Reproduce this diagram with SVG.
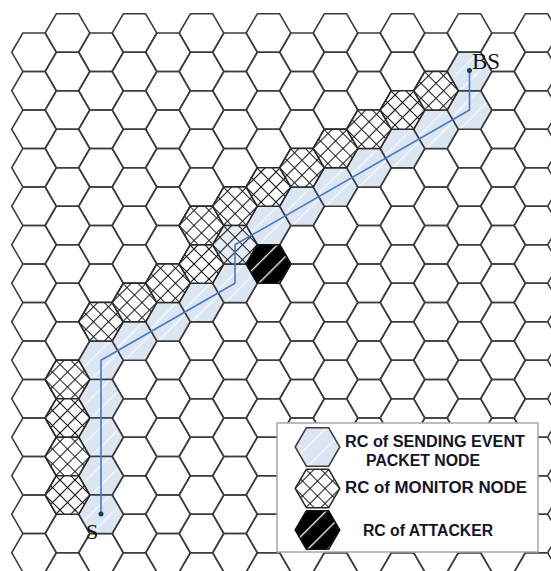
<svg xmlns="http://www.w3.org/2000/svg" width="551" height="571" viewBox="0 0 551 571">
<style>
.g{fill:none;stroke:#3c3c3c;stroke-width:1.5}
.snd{fill:url(#pBlue);stroke:#3c3c3c;stroke-width:1.5}
.mon{fill:url(#pX);stroke:#2a2a2a;stroke-width:1.5}
.monb{fill:url(#pXB);stroke:#2a2a2a;stroke-width:1.5}
.att{fill:url(#pAtt);stroke:#111;stroke-width:1.5}
.route{fill:none;stroke:#4a78c2;stroke-width:1.6}
.dot{fill:#1f3864}
.lbl{font-family:"Liberation Serif","Times New Roman",serif;fill:#111}
.leg{font-family:"Liberation Sans",Arial,sans-serif;font-weight:bold;font-size:16px;fill:#14142a}
</style>
<defs>
<path id="h" d="M-22.3 0L-11.15-19.25H11.15L22.3 0 11.15 19.25H-11.15Z"/>
<g id="colE">
<use href="#h" y="52.25"/><use href="#h" y="90.75"/><use href="#h" y="129.25"/><use href="#h" y="167.75"/><use href="#h" y="206.25"/><use href="#h" y="244.75"/><use href="#h" y="283.25"/><use href="#h" y="321.75"/><use href="#h" y="360.25"/><use href="#h" y="398.75"/><use href="#h" y="437.25"/><use href="#h" y="475.75"/><use href="#h" y="514.25"/><use href="#h" y="552.75"/>
</g>
<g id="colO">
<use href="#h" y="33"/><use href="#h" y="71.5"/><use href="#h" y="110"/><use href="#h" y="148.5"/><use href="#h" y="187"/><use href="#h" y="225.5"/><use href="#h" y="264"/><use href="#h" y="302.5"/><use href="#h" y="341"/><use href="#h" y="379.5"/><use href="#h" y="418"/><use href="#h" y="456.5"/><use href="#h" y="495"/><use href="#h" y="533.5"/><use href="#h" y="572"/>
</g>
<pattern id="pBlue" patternUnits="userSpaceOnUse" width="14" height="14" patternTransform="rotate(45)">
<rect width="14" height="14" fill="#dce6f2"/><rect x="6" width="1.4" height="14" fill="#f4f8fc"/>
</pattern>
<pattern id="pX" patternUnits="userSpaceOnUse" width="10.6" height="10.6" patternTransform="rotate(45)">
<rect width="10.6" height="10.6" fill="#fff"/><path d="M0 5.3H10.6M5.3 0V10.6" stroke="#1a1a1a" stroke-width="1.1"/>
</pattern>
<pattern id="pXB" patternUnits="userSpaceOnUse" width="10.6" height="10.6" patternTransform="rotate(45)">
<rect width="10.6" height="10.6" fill="#e6edf6"/><path d="M0 5.3H10.6M5.3 0V10.6" stroke="#1a1a1a" stroke-width="1.1"/>
</pattern>
<pattern id="pAtt" patternUnits="userSpaceOnUse" width="14" height="14" patternTransform="rotate(45)">
<rect width="14" height="14" fill="#000"/><rect x="6" width="1.4" height="14" fill="#e8e8e8"/>
</pattern>
</defs>

<g id="grid" class="g">
<use href="#colE" x="34"/><use href="#colO" x="67.5"/>
<use href="#colE" x="101"/><use href="#colO" x="134.5"/>
<use href="#colE" x="168"/><use href="#colO" x="201.5"/>
<use href="#colE" x="235"/><use href="#colO" x="268.5"/>
<use href="#colE" x="302"/><use href="#colO" x="335.5"/>
<use href="#colE" x="369"/><use href="#colO" x="402.5"/>
<use href="#colE" x="436"/><use href="#colO" x="469.5"/>
<use href="#colE" x="503"/><use href="#colO" x="536.5"/>
</g>

<g id="sending-cells">
<use class="snd" href="#h" x="101" y="360.25"/>
<use class="snd" href="#h" x="101" y="398.75"/>
<use class="snd" href="#h" x="101" y="437.25"/>
<use class="snd" href="#h" x="101" y="475.75"/>
<use class="snd" href="#h" x="101" y="514.25"/>
<use class="snd" href="#h" x="134.5" y="341"/>
<use class="snd" href="#h" x="168" y="321.75"/>
<use class="snd" href="#h" x="201.5" y="302.5"/>
<use class="snd" href="#h" x="235" y="283.25"/>
<use class="snd" href="#h" x="268.5" y="225.5"/>
<use class="snd" href="#h" x="302" y="206.25"/>
<use class="snd" href="#h" x="335.5" y="187"/>
<use class="snd" href="#h" x="369" y="167.75"/>
<use class="snd" href="#h" x="402.5" y="148.5"/>
<use class="snd" href="#h" x="436" y="129.25"/>
<use class="snd" href="#h" x="469.5" y="110"/>
<use class="snd" href="#h" x="469.5" y="71.5"/>
</g>

<g id="monitor-cells">
<use class="mon" href="#h" x="67.5" y="379.5"/>
<use class="mon" href="#h" x="67.5" y="418"/>
<use class="mon" href="#h" x="67.5" y="456.5"/>
<use class="mon" href="#h" x="67.5" y="495"/>
<use class="mon" href="#h" x="101" y="321.75"/>
<use class="mon" href="#h" x="134.5" y="302.5"/>
<use class="mon" href="#h" x="168" y="283.25"/>
<use class="mon" href="#h" x="201.5" y="264"/>
<use class="mon" href="#h" x="201.5" y="225.5"/>
<use class="mon" href="#h" x="235" y="206.25"/>
<use class="monb" href="#h" x="235" y="244.75"/>
<use class="mon" href="#h" x="268.5" y="187"/>
<use class="mon" href="#h" x="302" y="167.75"/>
<use class="mon" href="#h" x="335.5" y="148.5"/>
<use class="mon" href="#h" x="369" y="129.25"/>
<use class="mon" href="#h" x="402.5" y="110"/>
<use class="mon" href="#h" x="436" y="90.75"/>
</g>

<g id="attacker">
<use class="att" href="#h" x="268.5" y="264"/>
</g>

<g id="connectors">
<polyline class="route" points="101,514.25 101,360.25 235,283.25 235,244.75 469.5,110 469.5,71.5"/>
</g>

<g id="S">
<circle class="dot" cx="101" cy="514" r="2.5"/>
<text class="lbl" x="86" y="539" font-size="22">S</text>
</g>
<g id="BS">
<circle class="dot" cx="469.5" cy="70.5" r="2.5"/>
<text class="lbl" x="472" y="69" font-size="23">BS</text>
</g>

<g id="legend">
<rect x="277" y="423" width="261" height="129" fill="#fff" stroke="#a6a6a6" stroke-width="1.5"/>
<use class="snd" href="#h" x="317.5" y="447"/>
<use class="mon" href="#h" x="317.5" y="488.5"/>
<use class="att" href="#h" x="317.5" y="530"/>
<text class="leg" x="345" y="447" textLength="180" lengthAdjust="spacingAndGlyphs">RC of SENDING EVENT</text>
<text class="leg" x="366" y="466" textLength="114" lengthAdjust="spacingAndGlyphs">PACKET NODE</text>
<text class="leg" x="345" y="493" textLength="182" lengthAdjust="spacingAndGlyphs">RC of MONITOR NODE</text>
<text class="leg" x="363" y="536" textLength="130" lengthAdjust="spacingAndGlyphs">RC of ATTACKER</text>
</g>
</svg>
